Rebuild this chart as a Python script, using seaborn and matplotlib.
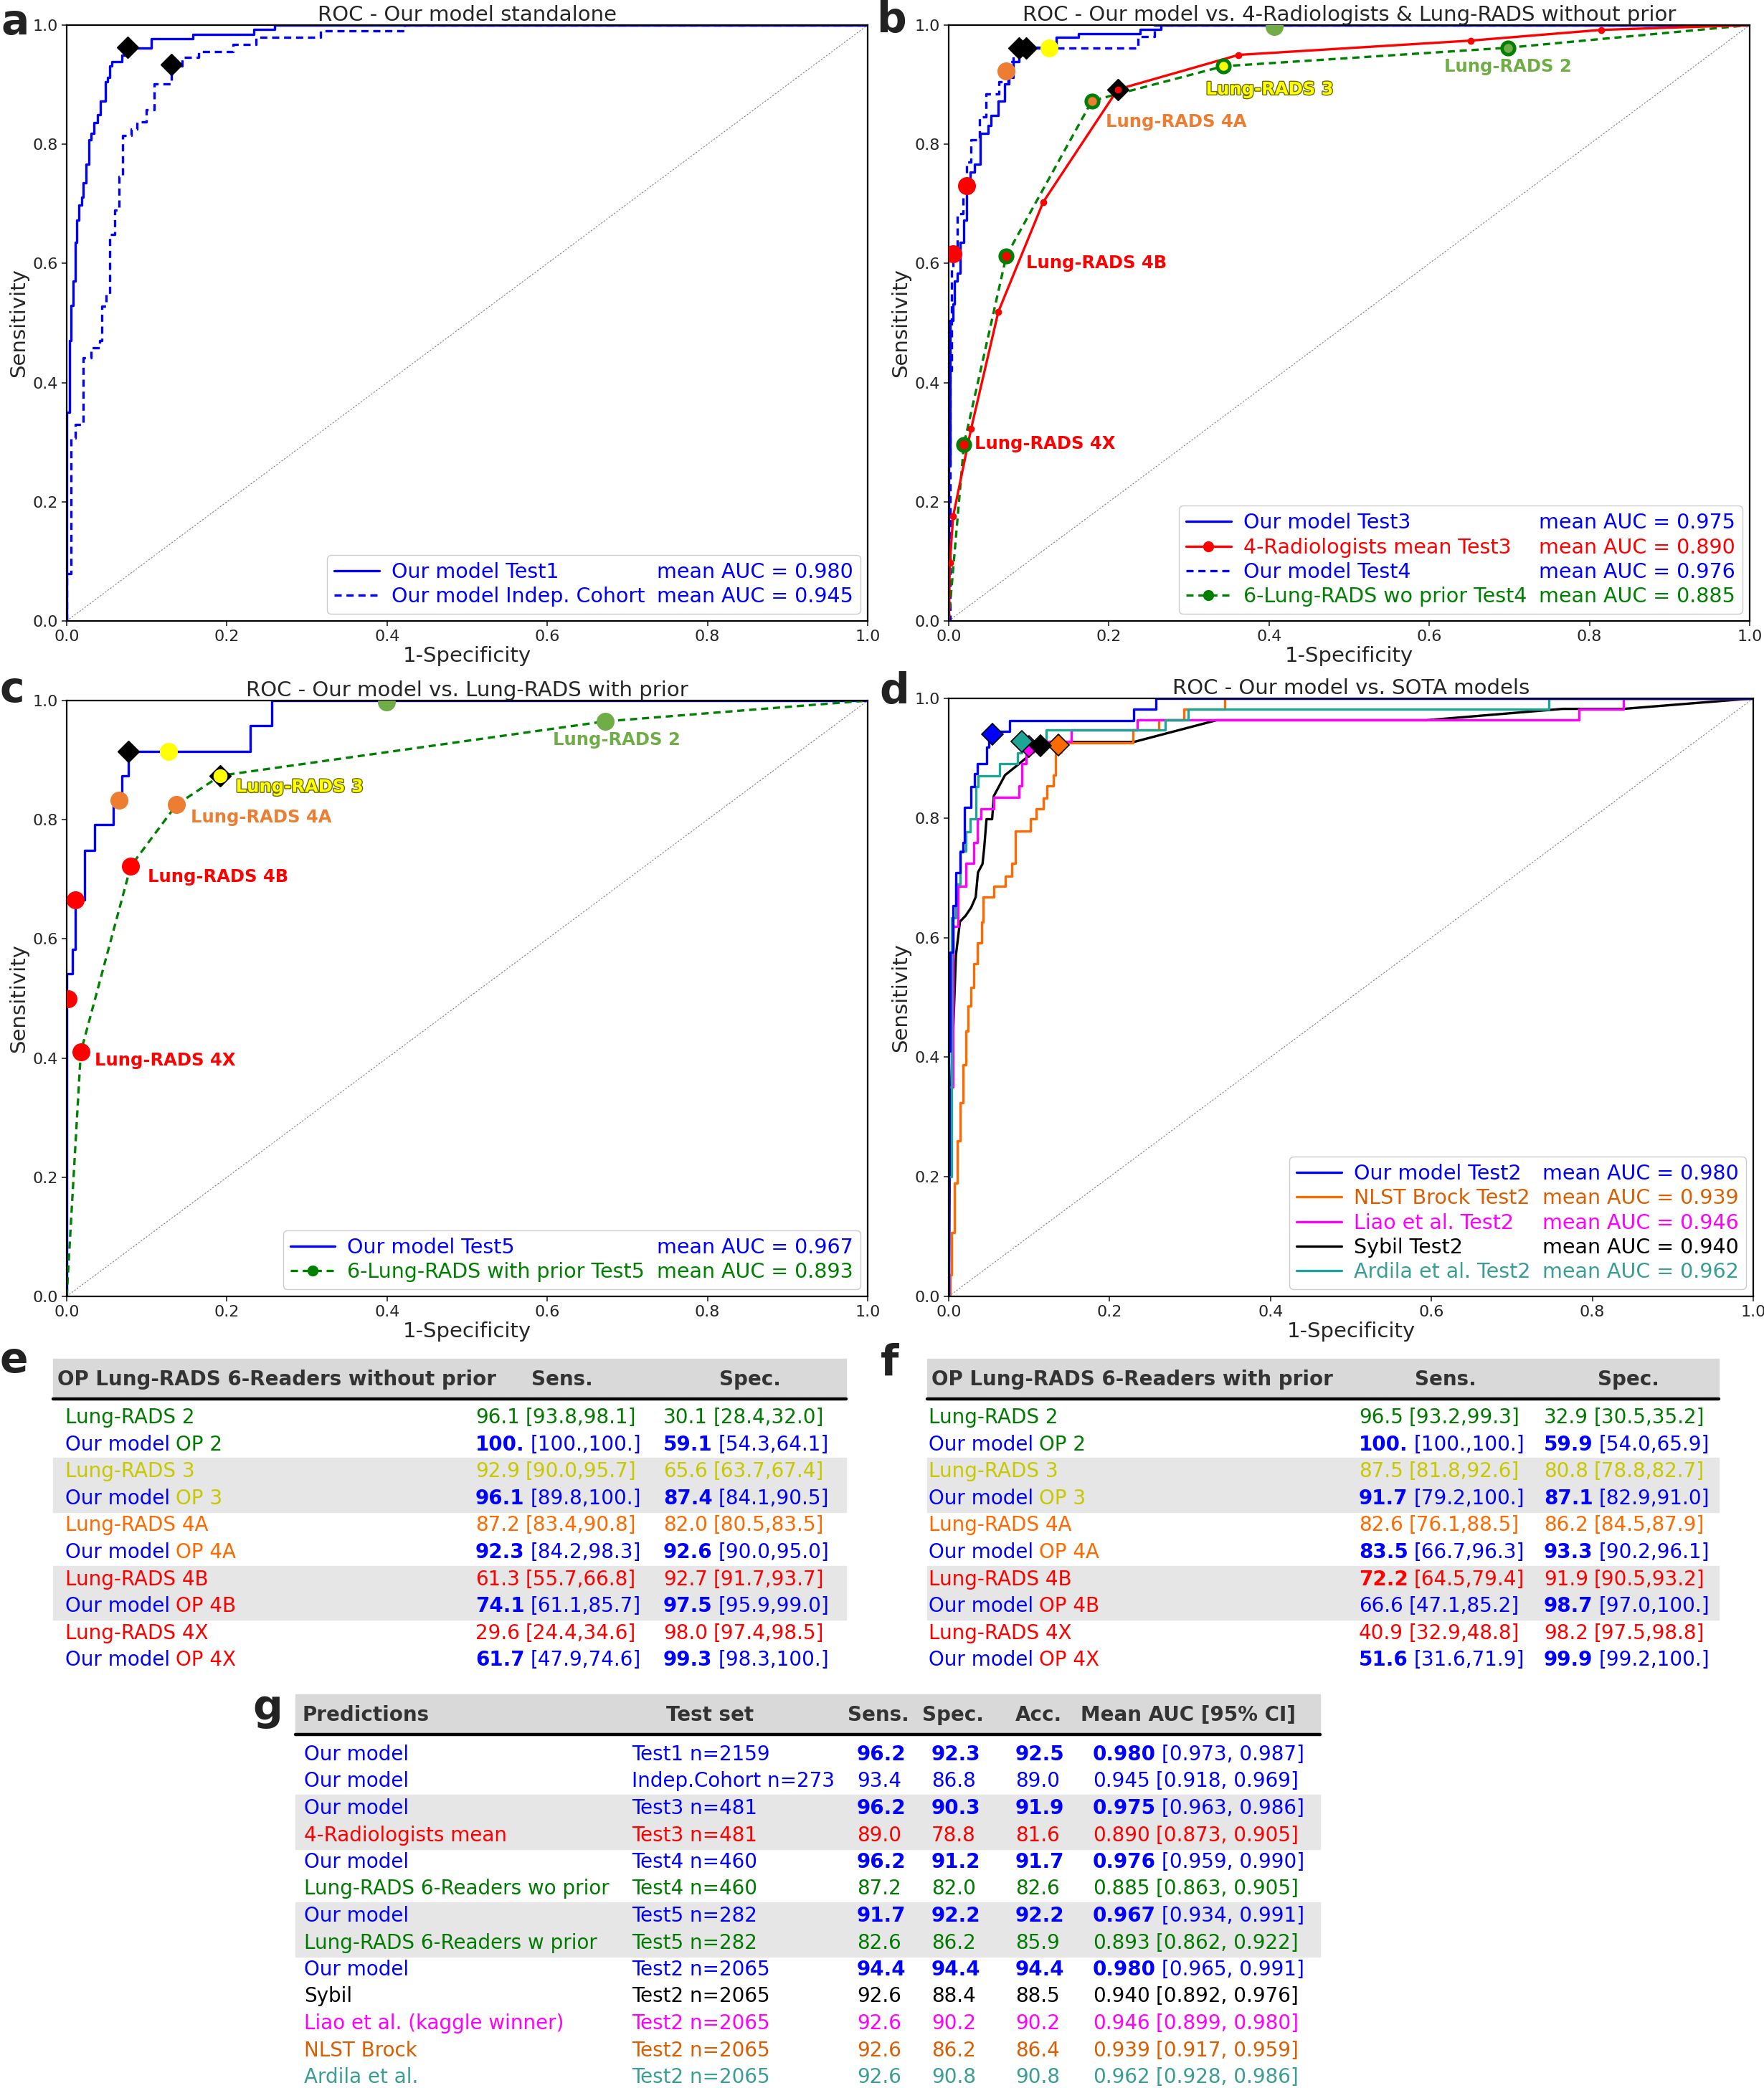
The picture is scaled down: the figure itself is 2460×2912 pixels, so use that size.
import numpy as np
import matplotlib
matplotlib.use("Agg")
import matplotlib.pyplot as plt
import matplotlib.patheffects as pe
from matplotlib.lines import Line2D
from matplotlib.patches import Rectangle
import seaborn as sns

W, H = 2460, 2912

# ---------------- ROC data ----------------
# panel a
a_t1_fpr = [0, 0, 0.0035, 0.005, 0.008, 0.0106, 0.0127, 0.0155, 0.019, 0.021, 0.0246, 0.028, 0.030, 0.034,
            0.0387, 0.042, 0.048, 0.051, 0.054, 0.056, 0.069, 0.074, 0.077, 0.106, 0.158, 0.234, 0.260, 1.0]
a_t1_tpr = [0, 0.35, 0.47, 0.53, 0.57, 0.635, 0.673, 0.698, 0.711, 0.735, 0.767, 0.808, 0.818, 0.836,
            0.849, 0.872, 0.905, 0.912, 0.932, 0.939, 0.950, 0.956, 0.961, 0.977, 0.984, 0.993, 1.0, 1.0]
a_ic_fpr = [0, 0, 0.005, 0.011, 0.021, 0.030, 0.041, 0.044, 0.049, 0.054, 0.060, 0.065, 0.070, 0.081,
            0.088, 0.099, 0.109, 0.131, 0.144, 0.165, 0.208, 0.236, 0.317, 0.422, 1.0]
a_ic_tpr = [0, 0.08, 0.307, 0.33, 0.442, 0.459, 0.47, 0.528, 0.549, 0.649, 0.69, 0.746, 0.815, 0.825,
            0.837, 0.858, 0.901, 0.932, 0.946, 0.956, 0.968, 0.979, 0.99, 1.0, 1.0]
a_op_x = [0.076, 0.131]
a_op_y = [0.963, 0.934]

# panel b
b_t3_fpr = [0, 0, 0.002, 0.005, 0.007, 0.011, 0.014, 0.019, 0.0225, 0.027, 0.032, 0.039, 0.049, 0.053,
            0.062, 0.070, 0.075, 0.081, 0.088, 0.091, 0.134, 0.162, 0.239, 0.265, 1.0]
b_t3_tpr = [0, 0.262, 0.504, 0.532, 0.57, 0.584, 0.635, 0.673, 0.718, 0.753, 0.767, 0.818, 0.832, 0.848,
            0.872, 0.901, 0.912, 0.939, 0.953, 0.963, 0.979, 0.986, 0.993, 1.0, 1.0]
b_t4_fpr = [0, 0.0014, 0.0035, 0.0056, 0.0106, 0.0176, 0.0225, 0.028, 0.0387, 0.047, 0.063, 0.074, 0.081,
            0.088, 0.236, 0.257, 1.0]
b_t4_tpr = [0, 0.42, 0.594, 0.628, 0.684, 0.739, 0.77, 0.808, 0.846, 0.885, 0.905, 0.939, 0.954,
            0.962, 0.981, 1.0, 1.0]
b_rad_fpr = [0, 0.0014, 0.0056, 0.028, 0.062, 0.118, 0.211, 0.362, 0.652, 0.815, 1.0]
b_rad_tpr = [0, 0.097, 0.176, 0.3225, 0.519, 0.703, 0.892, 0.950, 0.974, 0.992, 1.0]
b_lr_fpr = [0, 0.019, 0.072, 0.179, 0.343, 0.698, 1.0]
b_lr_tpr = [0, 0.296, 0.613, 0.873, 0.931, 0.962, 1.0]
b_op_x = [0.0056, 0.0225, 0.072, 0.125, 0.406]
b_op_y = [0.616, 0.731, 0.923, 0.962, 0.998]
b_dia_x = [0.088, 0.097, 0.211]
b_dia_y = [0.962, 0.962, 0.892]

# panel c
c_t5_fpr = [0, 0, 0.007, 0.011, 0.0225, 0.035, 0.058, 0.069, 0.077, 0.229, 0.256, 1.0]
c_t5_tpr = [0, 0.5415, 0.582, 0.665, 0.749, 0.7915, 0.833, 0.874, 0.915, 0.958, 1.0, 1.0]
c_lr_fpr = [0, 0.0176, 0.080, 0.137, 0.192, 0.672, 1.0]
c_lr_tpr = [0, 0.41, 0.722, 0.825, 0.874, 0.965, 1.0]
c_op_x = [0.0014, 0.0106, 0.0655, 0.127, 0.399]
c_op_y = [0.5, 0.666, 0.833, 0.915, 0.998]
c_dia_x = [0.077, 0.192]
c_dia_y = [0.915, 0.874]

# panel d
d_our_fpr = [0, 0, 0.002, 0.005, 0.009, 0.014, 0.0175, 0.020, 0.028, 0.032, 0.036, 0.047, 0.050, 0.0756,
             0.230, 0.258, 1.0]
d_our_tpr = [0, 0.41, 0.575, 0.653, 0.709, 0.744, 0.759, 0.8175, 0.853, 0.874, 0.891, 0.919, 0.945, 0.963,
             0.982, 1.0, 1.0]
d_nlst_fpr = [0, 0.0014, 0.0035, 0.007, 0.0105, 0.014, 0.0175, 0.021, 0.0245, 0.028, 0.0315, 0.036, 0.041,
              0.043, 0.056, 0.070, 0.078, 0.083, 0.1015, 0.1085, 0.118, 0.1225, 0.130, 0.133, 0.140, 0.229,
              0.261, 0.292, 0.343, 1.0]
d_nlst_tpr = [0, 0.036, 0.107, 0.19, 0.26, 0.324, 0.387, 0.4435, 0.4856, 0.517, 0.556, 0.591, 0.626,
              0.668, 0.686, 0.703, 0.724, 0.778, 0.798, 0.815, 0.833, 0.854, 0.872, 0.91, 0.926, 0.9467,
              0.9635, 0.982, 1.0, 1.0]
d_liao_fpr = [0, 0, 0.0056, 0.012, 0.021, 0.0315, 0.036, 0.040, 0.056, 0.0875, 0.091, 0.0966, 0.105, 0.1527,
              0.2346, 0.783, 0.839, 1.0]
d_liao_tpr = [0, 0.35, 0.619, 0.686, 0.724, 0.759, 0.798, 0.8154, 0.834, 0.854, 0.891, 0.910, 0.9277, 0.9467,
              0.9635, 0.9825, 1.0, 1.0]
d_sybil_fpr = [0, 0.0014, 0.0035, 0.009, 0.014, 0.021, 0.028, 0.0336, 0.0364, 0.042, 0.044, 0.047, 0.054,
               0.056, 0.070, 0.086, 0.105, 0.114, 0.139, 0.2297, 0.333, 0.594, 0.763, 0.839, 1.0]
d_sybil_tpr = [0, 0.212, 0.366, 0.5705, 0.6267, 0.6365, 0.6505, 0.668, 0.709, 0.723, 0.748, 0.798, 0.798,
               0.8365, 0.8716, 0.889, 0.91, 0.924, 0.927, 0.927, 0.9635, 0.9635, 0.9825, 0.9825, 1.0]
d_ard_fpr = [0, 0, 0.0035, 0.009, 0.014, 0.021, 0.0266, 0.0336, 0.0364, 0.063, 0.086, 0.091, 0.121, 0.2696,
             0.2976, 0.7458, 1.0]
d_ard_tpr = [0, 0.2, 0.633, 0.689, 0.745, 0.777, 0.798, 0.8526, 0.8702, 0.891, 0.9088, 0.9277, 0.9467, 0.9635,
             0.9825, 1.0, 1.0]
d_dia_x = [0.100, 0.1366, 0.114, 0.091, 0.0546]
d_dia_y = [0.920, 0.922, 0.921, 0.928, 0.940]

lr_names = ["Lung-RADS 4X", "Lung-RADS 4B", "Lung-RADS 4A", "Lung-RADS 3", "Lung-RADS 2"]
b_lab_x = [0.032, 0.097, 0.196, 0.321, 0.619]
b_lab_y = [0.297, 0.600, 0.837, 0.892, 0.930]
c_lab_x = [0.035, 0.101, 0.155, 0.211, 0.607]
c_lab_y = [0.396, 0.704, 0.804, 0.855, 0.934]

# ---------------- table data ----------------
e_labels = ["2", "3", "4A", "4B", "4X"]
e_sens_val = ["96.1", "100.", "92.9", "96.1", "87.2", "92.3", "61.3", "74.1", "29.6", "61.7"]
e_sens_ci = ["[93.8,98.1]", "[100.,100.]", "[90.0,95.7]", "[89.8,100.]", "[83.4,90.8]", "[84.2,98.3]",
             "[55.7,66.8]", "[61.1,85.7]", "[24.4,34.6]", "[47.9,74.6]"]
e_spec_val = ["30.1", "59.1", "65.6", "87.4", "82.0", "92.6", "92.7", "97.5", "98.0", "99.3"]
e_spec_ci = ["[28.4,32.0]", "[54.3,64.1]", "[63.7,67.4]", "[84.1,90.5]", "[80.5,83.5]", "[90.0,95.0]",
             "[91.7,93.7]", "[95.9,99.0]", "[97.4,98.5]", "[98.3,100.]"]
e_sens_bold = [0, 1, 0, 1, 0, 1, 0, 1, 0, 1]
e_spec_bold = [0, 1, 0, 1, 0, 1, 0, 1, 0, 1]

f_sens_val = ["96.5", "100.", "87.5", "91.7", "82.6", "83.5", "72.2", "66.6", "40.9", "51.6"]
f_sens_ci = ["[93.2,99.3]", "[100.,100.]", "[81.8,92.6]", "[79.2,100.]", "[76.1,88.5]", "[66.7,96.3]",
             "[64.5,79.4]", "[47.1,85.2]", "[32.9,48.8]", "[31.6,71.9]"]
f_spec_val = ["32.9", "59.9", "80.8", "87.1", "86.2", "93.3", "91.9", "98.7", "98.2", "99.9"]
f_spec_ci = ["[30.5,35.2]", "[54.0,65.9]", "[78.8,82.7]", "[82.9,91.0]", "[84.5,87.9]", "[90.2,96.1]",
             "[90.5,93.2]", "[97.0,100.]", "[97.5,98.8]", "[99.2,100.]"]
f_sens_bold = [0, 1, 0, 1, 0, 1, 1, 0, 0, 1]
f_spec_bold = [0, 1, 0, 1, 0, 1, 0, 1, 0, 1]

g_pred = ["Our model", "Our model", "Our model", "4-Radiologists mean", "Our model",
          "Lung-RADS 6-Readers wo prior", "Our model", "Lung-RADS 6-Readers w prior", "Our model",
          "Sybil", "Liao et al. (kaggle winner)", "NLST Brock", "Ardila et al."]
g_test = ["Test1 n=2159", "Indep.Cohort n=273", "Test3 n=481", "Test3 n=481", "Test4 n=460", "Test4 n=460",
          "Test5 n=282", "Test5 n=282", "Test2 n=2065", "Test2 n=2065", "Test2 n=2065", "Test2 n=2065",
          "Test2 n=2065"]
g_sens = ["96.2", "93.4", "96.2", "89.0", "96.2", "87.2", "91.7", "82.6", "94.4", "92.6", "92.6", "92.6", "92.6"]
g_spec = ["92.3", "86.8", "90.3", "78.8", "91.2", "82.0", "92.2", "86.2", "94.4", "88.4", "90.2", "86.2", "90.8"]
g_acc = ["92.5", "89.0", "91.9", "81.6", "91.7", "82.6", "92.2", "85.9", "94.4", "88.5", "90.2", "86.4", "90.8"]
g_auc = ["0.980", "0.945", "0.975", "0.890", "0.976", "0.885", "0.967", "0.893", "0.980", "0.940", "0.946",
         "0.939", "0.962"]
g_ci = ["[0.973, 0.987]", "[0.918, 0.969]", "[0.963, 0.986]", "[0.873, 0.905]", "[0.959, 0.990]",
        "[0.863, 0.905]", "[0.934, 0.991]", "[0.862, 0.922]", "[0.965, 0.991]", "[0.892, 0.976]",
        "[0.899, 0.980]", "[0.917, 0.959]", "[0.928, 0.986]"]
g_bold = [1, 0, 1, 0, 1, 0, 1, 0, 1, 0, 0, 0, 0]

# ---------------- colours ----------------
BLUE, RED, GREEN = "#0000ff", "#ff0000", "#008000"
LGREEN, ORANGE, YELLOW = "#70ad47", "#ed7d31", "#ffff00"
NLST_L, NLST_T = "#ff6a00", "#d95f02"
TEAL_L, TEAL_T = "#1fa595", "#3a9e94"
MAG = "#ff00ff"
op_colors = [RED, RED, ORANGE, YELLOW, LGREEN]
T_GREEN, T_YELLOW, T_ORANGE = "#007a00", "#c8c800", "#ff6a00"
cat_colors = [T_GREEN, T_YELLOW, T_ORANGE, RED, RED]
g_colors = [BLUE, BLUE, BLUE, RED, BLUE, T_GREEN, BLUE, T_GREEN, BLUE, "black", MAG, NLST_T, TEAL_T]

sns.set_style("ticks", {"axes.edgecolor": "black"})
plt.rcParams["font.family"] = ["DejaVu Sans"]

fig = plt.figure(figsize=(W / 100, H / 100), dpi=100)
tab = fig.add_axes([0, 0, 1, 1])
tab.set_xlim(0, W)
tab.set_ylim(H, 0)
tab.axis("off")


def px_axes(l, t, r, b):
    return fig.add_axes([l / W, 1 - b / H, (r - l) / W, (b - t) / H])


def roc_frame(ax, title):
    ax.plot([0, 1], [0, 1], ls=(0, (2, 2)), color="grey", lw=0.8)
    ax.set_xlim(0, 1)
    ax.set_ylim(0, 1)
    ax.set_xticks(np.arange(0, 1.01, 0.2))
    ax.set_yticks(np.arange(0, 1.01, 0.2))
    ax.tick_params(labelsize=16, length=5, width=1.2)
    ax.set_title(title, fontsize=21, pad=4)
    ax.set_xlabel("1-Specificity", fontsize=21, labelpad=2)
    ax.set_ylabel("Sensitivity", fontsize=21)
    for s in ax.spines.values():
        s.set_linewidth(1.6)
        s.set_color("black")


def step(ax, x, y, color, ls="-", lw=2.4, steps=True):
    kw = dict(drawstyle="steps-post") if steps else {}
    sns.lineplot(x=x, y=y, ax=ax, color=color, linestyle=ls, lw=lw, sort=False, estimator=None, **kw)


def auc_legend(ax, handles, names, aucs, colors):
    blanks = [Line2D([], [], color="none") for _ in names]
    leg = ax.legend(handles + blanks, names + aucs, ncol=2, loc="lower right", fontsize=20.5,
                    columnspacing=-2.2, handlelength=2.2, handletextpad=0.6, labelspacing=0.22,
                    borderpad=0.35, borderaxespad=0.35, framealpha=1, edgecolor="#cccccc")
    for t, c in zip(leg.get_texts(), colors + colors):
        t.set_color(c)


def op_points(ax, xs, ys, ms=17):
    for x, y, c in zip(xs, ys, op_colors):
        ax.plot([x], [y], "o", color=c, mec=c, ms=ms, zorder=5)


def lr_labels(ax, xs, ys):
    for name, x, y, c in zip(lr_names, xs, ys, op_colors):
        t = ax.text(x, y, name, color=c, fontsize=17.5, fontweight="bold", ha="left", va="center", zorder=6)
        if c == YELLOW:
            t.set_path_effects([pe.withStroke(linewidth=2, foreground="#6b6b00")])


DASH = (0, (3, 2))

# ---- a
ax = px_axes(93, 35, 1210, 866)
roc_frame(ax, "ROC - Our model standalone")
step(ax, a_t1_fpr, a_t1_tpr, BLUE)
step(ax, a_ic_fpr, a_ic_tpr, BLUE, ls=DASH)
ax.plot(a_op_x, a_op_y, "D", color="black", ms=15, zorder=5)
auc_legend(ax, [Line2D([], [], color=BLUE, lw=2.4), Line2D([], [], color=BLUE, lw=2.4, ls=DASH)],
           ["Our model Test1", "Our model Indep. Cohort"],
           ["mean AUC = 0.980", "mean AUC = 0.945"], [BLUE, BLUE])

# ---- b
ax = px_axes(1323, 35, 2440, 866)
roc_frame(ax, "ROC - Our model vs. 4-Radiologists & Lung-RADS without prior")
step(ax, b_t3_fpr, b_t3_tpr, BLUE)
step(ax, b_t4_fpr, b_t4_tpr, BLUE, ls=DASH)
step(ax, b_lr_fpr, b_lr_tpr, GREEN, ls=DASH, steps=False)
step(ax, b_rad_fpr, b_rad_tpr, RED, steps=False)
ax.plot(b_rad_fpr[1:-1], b_rad_tpr[1:-1], "o", color=RED, ms=6, zorder=4)
ax.plot(b_dia_x, b_dia_y, "D", color="black", ms=15, zorder=5)
ax.plot(b_dia_x[2:], b_dia_y[2:], "o", color=RED, ms=6, zorder=6)
ax.plot(b_lr_fpr[1:-1], b_lr_tpr[1:-1], "o", color=GREEN, ms=15, zorder=5)
for x, y, c in zip(b_lr_fpr[1:-1], b_lr_tpr[1:-1], op_colors):
    ax.plot([x], [y], "o", color=c, ms=8, zorder=6)
op_points(ax, b_op_x, b_op_y)
lr_labels(ax, b_lab_x, b_lab_y)
auc_legend(ax, [Line2D([], [], color=BLUE, lw=2.4),
                Line2D([], [], color=RED, lw=2.4, marker="o", ms=10),
                Line2D([], [], color=BLUE, lw=2.4, ls=DASH),
                Line2D([], [], color=GREEN, lw=2.4, ls=DASH, marker="o", ms=10)],
           ["Our model Test3", "4-Radiologists mean Test3", "Our model Test4", "6-Lung-RADS wo prior Test4"],
           ["mean AUC = 0.975", "mean AUC = 0.890", "mean AUC = 0.976", "mean AUC = 0.885"],
           [BLUE, RED, BLUE, GREEN])

# ---- c
ax = px_axes(93, 977, 1210, 1808)
roc_frame(ax, "ROC - Our model vs. Lung-RADS with prior")
step(ax, c_t5_fpr, c_t5_tpr, BLUE)
step(ax, c_lr_fpr, c_lr_tpr, GREEN, ls=DASH, steps=False)
ax.plot(c_dia_x, c_dia_y, "D", color="black", ms=15, zorder=5)
op_points(ax, c_op_x, c_op_y)
for x, y, c in zip(c_lr_fpr[1:-1], c_lr_tpr[1:-1], op_colors):
    ax.plot([x], [y], "o", color=c, ms=17 if c != YELLOW else 13, zorder=6)
lr_labels(ax, c_lab_x, c_lab_y)
auc_legend(ax, [Line2D([], [], color=BLUE, lw=2.4),
                Line2D([], [], color=GREEN, lw=2.4, ls=DASH, marker="o", ms=10)],
           ["Our model Test5", "6-Lung-RADS with prior Test5"],
           ["mean AUC = 0.967", "mean AUC = 0.893"], [BLUE, GREEN])

# ---- d
ax = px_axes(1323, 974, 2445, 1808)
roc_frame(ax, "ROC - Our model vs. SOTA models")
step(ax, d_sybil_fpr, d_sybil_tpr, "black", steps=False)
step(ax, d_nlst_fpr, d_nlst_tpr, NLST_L)
step(ax, d_liao_fpr, d_liao_tpr, MAG)
step(ax, d_ard_fpr, d_ard_tpr, TEAL_L)
step(ax, d_our_fpr, d_our_tpr, BLUE)
for x, y, c in zip(d_dia_x, d_dia_y, [MAG, NLST_L, "black", TEAL_L, BLUE]):
    ax.plot([x], [y], "D", color=c, mec="black", mew=1.2, ms=15, zorder=5)
auc_legend(ax, [Line2D([], [], color=c, lw=2.4) for c in [BLUE, NLST_L, MAG, "black", TEAL_L]],
           ["Our model Test2", "NLST Brock Test2", "Liao et al. Test2", "Sybil Test2", "Ardila et al. Test2"],
           ["mean AUC = 0.980", "mean AUC = 0.939", "mean AUC = 0.946", "mean AUC = 0.940", "mean AUC = 0.962"],
           [BLUE, NLST_T, MAG, "black", TEAL_T])

# ---------------- tables ----------------
renderer = fig.canvas.get_renderer()
FS = 20


def put(x, y, parts):
    for s, c, b in parts:
        t = tab.text(x, y, s, color=c, fontsize=FS, fontweight="bold" if b else "normal", ha="left", va="center")
        x += t.get_window_extent(renderer).width + 8


def header(x0, x1, y0, cols):
    tab.add_patch(Rectangle((x0, y0), x1 - x0, 54, color="#d9d9d9", zorder=0))
    tab.plot([x0, x1], [y0 + 56, y0 + 56], color="black", lw=3.2)
    for s, x in cols:
        tab.text(x, y0 + 29, s, color="#333333", fontsize=FS, fontweight="bold", ha="left", va="center")


def band(x0, x1, ya, yb):
    tab.add_patch(Rectangle((x0, ya), x1 - x0, yb - ya, color="#e6e6e6", zorder=0))


def op_table(x0, x1, title, hx, lx, sx, px_, sv, sc, pv, pc, sb, pb):
    header(x0, x1, 1895, [(title, x0 + 6), ("Sens.", hx[0]), ("Spec.", hx[1])])
    ys = [1977 + i * 37.6 for i in range(10)]
    band(x0, x1, ys[2] - 19, ys[3] + 19)
    band(x0, x1, ys[6] - 19, ys[7] + 19)
    for i, y in enumerate(ys):
        cat = cat_colors[i // 2]
        lab = e_labels[i // 2]
        if i % 2 == 0:
            put(lx, y, [("Lung-RADS " + lab, cat, 0)])
            vc = cat
        else:
            put(lx, y, [("Our model", BLUE, 0), ("OP " + lab, cat, 0)])
            vc = BLUE
        put(sx, y, [(sv[i], vc, sb[i]), (sc[i], vc, 0)])
        put(px_, y, [(pv[i], vc, pb[i]), (pc[i], vc, 0)])


op_table(74, 1180, "OP Lung-RADS 6-Readers without prior", (741, 1003), 91, 663, 925,
         e_sens_val, e_sens_ci, e_spec_val, e_spec_ci, e_sens_bold, e_spec_bold)
op_table(1293, 2397, "OP Lung-RADS 6-Readers with prior", (1973, 2228), 1295, 1895, 2153,
         f_sens_val, f_sens_ci, f_spec_val, f_spec_ci, f_sens_bold, f_spec_bold)

header(412, 1841, 2363, [("Predictions", 422), ("Test set", 929), ("Sens.", 1182), ("Spec.", 1286),
                         ("Acc.", 1416), ("Mean AUC [95% CI]", 1507)])
gy = [2447 + i * 37.5 for i in range(13)]
band(412, 1841, gy[2] - 19, gy[3] + 19)
band(412, 1841, gy[6] - 19, gy[7] + 19)
for i, y in enumerate(gy):
    c, b = g_colors[i], g_bold[i]
    put(424, y, [(g_pred[i], c, 0)])
    put(881, y, [(g_test[i], c, 0)])
    put(1195, y, [(g_sens[i], c, b)])
    put(1299, y, [(g_spec[i], c, b)])
    put(1416, y, [(g_acc[i], c, b)])
    put(1524, y, [(g_auc[i], c, b), (g_ci[i], c, 0)])

# panel letters
for s, x, y in [("a", 2, 48), ("b", 1222, 45), ("c", 0, 979), ("d", 1226, 981),
                ("e", 0, 1914), ("f", 1228, 1918), ("g", 352, 2399)]:
    tab.text(x, y, s, fontsize=42, fontweight="bold", ha="left", va="baseline", color="#222222")

fig.savefig("out.png", dpi=100)
